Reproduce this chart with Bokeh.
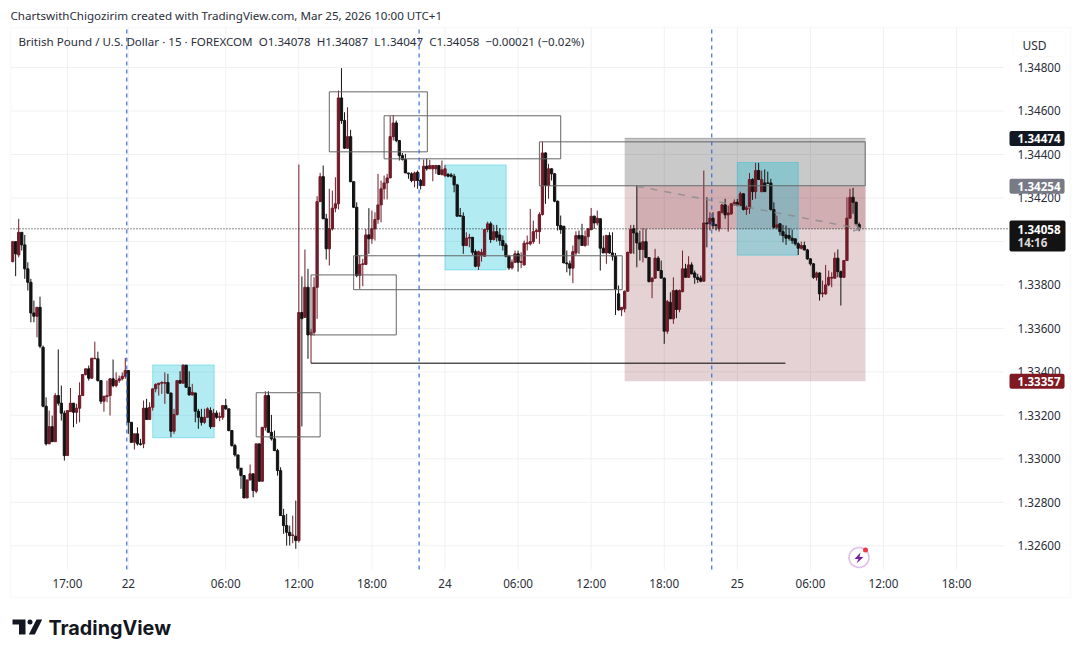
from bokeh.embed import file_html
from bokeh.models import (Arrow, BoxAnnotation, ColumnDataSource, Label, OpenHead,
                          PolyAnnotation, PrintfTickFormatter, Range1d)
from bokeh.plotting import figure
from bokeh.resources import INLINE

# GBP/USD 15 minute candles, one entry per bar
opens = [
    1.33907, 1.33999, 1.33938, 1.34042, 1.33984, 1.33874, 1.33812, 1.33671, 1.33656, 1.33697,
    1.33513, 1.33242, 1.33069, 1.33148, 1.33079, 1.33291, 1.33256, 1.33210, 1.33015, 1.33217,
    1.33256, 1.33214, 1.33233, 1.33291, 1.33388, 1.33414, 1.33371, 1.33460, 1.33460, 1.33360,
    1.33265, 1.33286, 1.33291, 1.33368, 1.33337, 1.33360, 1.33368, 1.33380, 1.33406, 1.33168,
    1.33076, 1.33115, 1.33069, 1.33069, 1.33233, 1.33181, 1.33237, 1.33322, 1.33342, 1.33348,
    1.33348, 1.33351, 1.33302, 1.33127, 1.33204, 1.33360, 1.33348, 1.33431, 1.33329, 1.33294,
    1.33303, 1.33219, 1.33191, 1.33168, 1.33191, 1.33222, 1.33148, 1.33210, 1.33191, 1.33191,
    1.33245, 1.33230, 1.33130, 1.33061, 1.33018, 1.32957, 1.32923, 1.32820, 1.32903, 1.32931,
    1.32851, 1.33069, 1.32897, 1.33145, 1.33291, 1.33122, 1.33092, 1.33038, 1.32946, 1.32739,
    1.32693, 1.32662, 1.32647, 1.32644, 1.32624, 1.33673, 1.33651, 1.33789, 1.33570, 1.33582,
    1.33789, 1.34183, 1.34298, 1.34104, 1.33966, 1.34058, 1.34153, 1.34173, 1.34660, 1.34556,
    1.34429, 1.34482, 1.34275, 1.34157, 1.33843, 1.33894, 1.33894, 1.34030, 1.34012, 1.34058,
    1.34101, 1.34168, 1.34242, 1.34269, 1.34292, 1.34482, 1.34545, 1.34464, 1.34395, 1.34377,
    1.34315, 1.34311, 1.34280, 1.34318, 1.34280, 1.34257, 1.34346, 1.34334, 1.34334, 1.34334,
    1.34349, 1.34308, 1.34303, 1.34308, 1.34306, 1.34300, 1.34260, 1.34119, 1.34116, 1.33981,
    1.34015, 1.34019, 1.33953, 1.33886, 1.33935, 1.33932, 1.34055, 1.34081, 1.34009, 1.34045,
    1.34030, 1.34004, 1.33984, 1.33932, 1.33878, 1.33904, 1.33943, 1.33904, 1.33892, 1.33989,
    1.33989, 1.33999, 1.34045, 1.34045, 1.34124, 1.34407, 1.34257, 1.34334, 1.34311, 1.34185,
    1.34073, 1.34070, 1.33901, 1.33897, 1.33877, 1.33947, 1.34027, 1.34027, 1.33981, 1.34022,
    1.34055, 1.34116, 1.34085, 1.34104, 1.33969, 1.33947, 1.34027, 1.33947, 1.33932, 1.33759,
    1.33685, 1.33690, 1.33771, 1.33947, 1.34058, 1.34039, 1.33993, 1.33963, 1.33999, 1.33926,
    1.33815, 1.33831, 1.33923, 1.33866, 1.33831, 1.33587, 1.33720, 1.33644, 1.33774, 1.33687,
    1.33769, 1.33874, 1.33835, 1.33892, 1.33855, 1.33835, 1.33831, 1.33817, 1.34085, 1.34081,
    1.34107, 1.34076, 1.34058, 1.34134, 1.34168, 1.34122, 1.34127, 1.34168, 1.34180, 1.34165,
    1.34219, 1.34147, 1.34153, 1.34285, 1.34229, 1.34326, 1.34229, 1.34269, 1.34269, 1.34269,
    1.34147, 1.34065, 1.34081, 1.34045, 1.34030, 1.34027, 1.34015, 1.34012, 1.33989, 1.33969,
    1.33981, 1.33961, 1.33920, 1.33897, 1.33835, 1.33855, 1.33759, 1.33759, 1.33800, 1.33831,
    1.33831, 1.33923, 1.33861, 1.33835, 1.33912, 1.34107, 1.34203, 1.34180, 1.34078,
]
closes = [
    1.33999, 1.33943, 1.34042, 1.33984, 1.33874, 1.33812, 1.33671, 1.33656, 1.33697, 1.33518,
    1.33242, 1.33069, 1.33148, 1.33079, 1.33291, 1.33256, 1.33210, 1.33015, 1.33222, 1.33256,
    1.33214, 1.33233, 1.33291, 1.33388, 1.33414, 1.33371, 1.33463, 1.33463, 1.33360, 1.33265,
    1.33288, 1.33291, 1.33368, 1.33337, 1.33360, 1.33368, 1.33380, 1.33406, 1.33168, 1.33076,
    1.33115, 1.33069, 1.33066, 1.33233, 1.33181, 1.33237, 1.33322, 1.33342, 1.33348, 1.33351,
    1.33351, 1.33302, 1.33127, 1.33204, 1.33360, 1.33348, 1.33431, 1.33329, 1.33294, 1.33306,
    1.33219, 1.33191, 1.33168, 1.33191, 1.33230, 1.33148, 1.33210, 1.33191, 1.33194, 1.33245,
    1.33230, 1.33130, 1.33061, 1.33018, 1.32957, 1.32923, 1.32820, 1.32903, 1.32931, 1.32854,
    1.33069, 1.32897, 1.33145, 1.33291, 1.33122, 1.33092, 1.33038, 1.32946, 1.32739, 1.32693,
    1.32662, 1.32647, 1.32650, 1.32624, 1.33673, 1.33645, 1.33789, 1.33570, 1.33582, 1.33789,
    1.34183, 1.34298, 1.34104, 1.33966, 1.34058, 1.34153, 1.34173, 1.34660, 1.34556, 1.34429,
    1.34482, 1.34275, 1.34157, 1.33843, 1.33894, 1.33897, 1.34030, 1.34012, 1.34058, 1.34101,
    1.34168, 1.34242, 1.34269, 1.34292, 1.34482, 1.34545, 1.34464, 1.34395, 1.34377, 1.34315,
    1.34311, 1.34280, 1.34315, 1.34280, 1.34257, 1.34346, 1.34334, 1.34349, 1.34349, 1.34349,
    1.34308, 1.34329, 1.34334, 1.34300, 1.34300, 1.34260, 1.34116, 1.34116, 1.33981, 1.34015,
    1.34019, 1.33950, 1.33886, 1.33953, 1.33950, 1.34055, 1.34081, 1.34009, 1.34045, 1.34019,
    1.34004, 1.33981, 1.33932, 1.33878, 1.33904, 1.33943, 1.33904, 1.33907, 1.33992, 1.33993,
    1.33999, 1.34045, 1.34050, 1.34124, 1.34407, 1.34257, 1.34334, 1.34311, 1.34185, 1.34073,
    1.34055, 1.33901, 1.33897, 1.33877, 1.33953, 1.34027, 1.34012, 1.33981, 1.34022, 1.34058,
    1.34116, 1.34085, 1.34107, 1.33969, 1.33947, 1.34027, 1.33947, 1.33932, 1.33779, 1.33685,
    1.33697, 1.33771, 1.33950, 1.34055, 1.34039, 1.33993, 1.33963, 1.33999, 1.33926, 1.33815,
    1.33831, 1.33923, 1.33866, 1.33831, 1.33587, 1.33723, 1.33644, 1.33774, 1.33687, 1.33774,
    1.33874, 1.33835, 1.33892, 1.33851, 1.33835, 1.33825, 1.33817, 1.34085, 1.34081, 1.34107,
    1.34073, 1.34073, 1.34137, 1.34168, 1.34122, 1.34131, 1.34173, 1.34180, 1.34165, 1.34219,
    1.34147, 1.34157, 1.34285, 1.34229, 1.34326, 1.34285, 1.34285, 1.34229, 1.34268, 1.34147,
    1.34065, 1.34076, 1.34045, 1.34027, 1.34015, 1.34015, 1.34004, 1.33989, 1.33969, 1.33981,
    1.33961, 1.33920, 1.33897, 1.33835, 1.33855, 1.33759, 1.33763, 1.33800, 1.33835, 1.33835,
    1.33923, 1.33861, 1.33835, 1.33912, 1.34107, 1.34203, 1.34180, 1.34081, 1.34058,
]
highs = [
    1.34000, 1.33999, 1.34104, 1.34042, 1.34030, 1.33904, 1.33828, 1.33728, 1.33697, 1.33746,
    1.33521, 1.33283, 1.33222, 1.33199, 1.33302, 1.33503, 1.33337, 1.33222, 1.33222, 1.33326,
    1.33256, 1.33253, 1.33352, 1.33388, 1.33414, 1.33429, 1.33463, 1.33539, 1.33493, 1.33360,
    1.33288, 1.33360, 1.33371, 1.33457, 1.33398, 1.33383, 1.33398, 1.33464, 1.33406, 1.33168,
    1.33115, 1.33145, 1.33092, 1.33268, 1.33276, 1.33260, 1.33322, 1.33348, 1.33348, 1.33357,
    1.33398, 1.33391, 1.33306, 1.33230, 1.33360, 1.33403, 1.33434, 1.33431, 1.33403, 1.33345,
    1.33303, 1.33230, 1.33230, 1.33230, 1.33237, 1.33237, 1.33230, 1.33222, 1.33214, 1.33245,
    1.33276, 1.33230, 1.33133, 1.33069, 1.33018, 1.32958, 1.32923, 1.32903, 1.32974, 1.32931,
    1.33069, 1.33069, 1.33145, 1.33311, 1.33311, 1.33202, 1.33130, 1.33046, 1.32961, 1.32770,
    1.32747, 1.32693, 1.32739, 1.32808, 1.34354, 1.33839, 1.33963, 1.33874, 1.33598, 1.33835,
    1.34208, 1.34315, 1.34349, 1.34127, 1.34242, 1.34234, 1.34295, 1.34694, 1.34797, 1.34594,
    1.34617, 1.34513, 1.34275, 1.34180, 1.33935, 1.33920, 1.34058, 1.34153, 1.34142, 1.34134,
    1.34311, 1.34280, 1.34303, 1.34311, 1.34576, 1.34582, 1.34556, 1.34464, 1.34407, 1.34403,
    1.34315, 1.34318, 1.34321, 1.34326, 1.34288, 1.34377, 1.34380, 1.34375, 1.34349, 1.34352,
    1.34349, 1.34372, 1.34352, 1.34315, 1.34315, 1.34311, 1.34265, 1.34154, 1.34134, 1.34042,
    1.34035, 1.34019, 1.33963, 1.33958, 1.33966, 1.34055, 1.34091, 1.34091, 1.34076, 1.34076,
    1.34061, 1.34027, 1.33993, 1.33938, 1.33917, 1.33958, 1.33958, 1.33950, 1.34004, 1.34027,
    1.34150, 1.34096, 1.34058, 1.34134, 1.34459, 1.34410, 1.34357, 1.34337, 1.34315, 1.34188,
    1.34119, 1.34070, 1.33958, 1.33912, 1.33981, 1.34047, 1.34050, 1.34081, 1.34050, 1.34061,
    1.34154, 1.34119, 1.34142, 1.34107, 1.34027, 1.34030, 1.34042, 1.34042, 1.33947, 1.33797,
    1.33697, 1.33774, 1.33953, 1.34076, 1.34076, 1.34257, 1.34050, 1.34061, 1.34058, 1.33927,
    1.33835, 1.33966, 1.33932, 1.33912, 1.33835, 1.33731, 1.33766, 1.33835, 1.33779, 1.33779,
    1.33958, 1.33897, 1.33932, 1.33904, 1.33866, 1.33851, 1.33843, 1.34326, 1.34203, 1.34134,
    1.34134, 1.34081, 1.34137, 1.34173, 1.34196, 1.34165, 1.34177, 1.34193, 1.34196, 1.34229,
    1.34222, 1.34165, 1.34315, 1.34291, 1.34361, 1.34361, 1.34326, 1.34331, 1.34321, 1.34288,
    1.34180, 1.34119, 1.34084, 1.34076, 1.34073, 1.34061, 1.34055, 1.34012, 1.33996, 1.33999,
    1.33999, 1.33966, 1.33923, 1.33901, 1.33861, 1.33858, 1.33820, 1.33892, 1.33866, 1.33858,
    1.33950, 1.33963, 1.33866, 1.33915, 1.34203, 1.34242, 1.34246, 1.34183, 1.34087,
]
lows = [
    1.33904, 1.33840, 1.33927, 1.33958, 1.33828, 1.33774, 1.33628, 1.33628, 1.33559, 1.33509,
    1.33237, 1.33061, 1.33069, 1.33079, 1.33079, 1.33245, 1.33176, 1.32992, 1.33015, 1.33217,
    1.33145, 1.33161, 1.33168, 1.33291, 1.33383, 1.33360, 1.33368, 1.33460, 1.33355, 1.33253,
    1.33217, 1.33260, 1.33199, 1.33329, 1.33329, 1.33349, 1.33360, 1.33368, 1.33115, 1.33073,
    1.33043, 1.33061, 1.33061, 1.33049, 1.33181, 1.33181, 1.33222, 1.33306, 1.33291, 1.33299,
    1.33253, 1.33299, 1.33099, 1.33115, 1.33199, 1.33348, 1.33348, 1.33326, 1.33291, 1.33291,
    1.33168, 1.33138, 1.33153, 1.33161, 1.33191, 1.33138, 1.33148, 1.33184, 1.33173, 1.33179,
    1.33225, 1.33127, 1.33056, 1.33010, 1.32946, 1.32862, 1.32820, 1.32820, 1.32900, 1.32823,
    1.32842, 1.32897, 1.32897, 1.33130, 1.33122, 1.33084, 1.33035, 1.32923, 1.32739, 1.32655,
    1.32601, 1.32601, 1.32612, 1.32586, 1.32615, 1.33149, 1.33648, 1.33460, 1.33440, 1.33567,
    1.33644, 1.34183, 1.34104, 1.33917, 1.33889, 1.34050, 1.34134, 1.34147, 1.34541, 1.34426,
    1.34426, 1.34272, 1.34153, 1.33835, 1.33782, 1.33794, 1.33894, 1.33943, 1.33989, 1.34004,
    1.34081, 1.34088, 1.34193, 1.34193, 1.34292, 1.34464, 1.34456, 1.34372, 1.34372, 1.34315,
    1.34288, 1.34272, 1.34249, 1.34242, 1.34239, 1.34257, 1.34326, 1.34334, 1.34277, 1.34311,
    1.34306, 1.34303, 1.34295, 1.34295, 1.34294, 1.34226, 1.34116, 1.34116, 1.33943, 1.33978,
    1.33973, 1.33938, 1.33881, 1.33869, 1.33907, 1.33929, 1.34042, 1.33993, 1.34004, 1.33999,
    1.33981, 1.33958, 1.33927, 1.33869, 1.33871, 1.33901, 1.33861, 1.33877, 1.33889, 1.33958,
    1.33981, 1.33989, 1.34012, 1.33989, 1.34119, 1.34173, 1.34196, 1.34280, 1.34180, 1.34050,
    1.34035, 1.33901, 1.33858, 1.33843, 1.33808, 1.33935, 1.33943, 1.33981, 1.33976, 1.33981,
    1.34050, 1.34058, 1.34073, 1.33866, 1.33947, 1.33897, 1.33943, 1.33912, 1.33662, 1.33682,
    1.33656, 1.33674, 1.33769, 1.33943, 1.33943, 1.33881, 1.33912, 1.33904, 1.33923, 1.33812,
    1.33739, 1.33828, 1.33866, 1.33831, 1.33529, 1.33575, 1.33644, 1.33621, 1.33647, 1.33674,
    1.33766, 1.33835, 1.33832, 1.33848, 1.33805, 1.33809, 1.33812, 1.33815, 1.33973, 1.34050,
    1.34058, 1.34050, 1.34045, 1.34127, 1.34104, 1.34045, 1.34122, 1.34165, 1.34162, 1.34162,
    1.34142, 1.34122, 1.34127, 1.34191, 1.34196, 1.34285, 1.34226, 1.34229, 1.34265, 1.34142,
    1.34058, 1.34055, 1.34027, 1.33996, 1.33984, 1.34004, 1.33989, 1.33981, 1.33938, 1.33963,
    1.33958, 1.33915, 1.33889, 1.33828, 1.33820, 1.33728, 1.33743, 1.33754, 1.33794, 1.33789,
    1.33828, 1.33835, 1.33705, 1.33832, 1.33912, 1.34104, 1.34127, 1.34078, 1.34047,
]

# axes, bar numbers for the time scale
price_ticks = [1.326, 1.328, 1.330, 1.332, 1.334, 1.336, 1.338, 1.340, 1.342, 1.344, 1.346, 1.348]
time_ticks = [18, 38, 70, 94, 118, 142, 166, 190, 214, 238, 262, 286, 310]
time_labels = ["17:00", "22", "06:00", "12:00", "18:00", "24", "06:00", "12:00", "18:00", "25", "06:00", "12:00", "18:00"]
session_breaks = [37.5, 133.5, 229.6]

# drawings on the chart
zone_left = [46, 142, 238]
zone_right = [66.2, 162.1, 258]
zone_top = [1.33432, 1.34352, 1.34363]
zone_bottom = [1.33097, 1.33869, 1.33937]

box_left = [104, 122, 173, 112, 98, 80]
box_right = [136.2, 180, 280, 200.2, 126, 101]
box_top = [1.34688, 1.34578, 1.34458, 1.33934, 1.33846, 1.33304]
box_bottom = [1.34412, 1.34380, 1.34256, 1.33778, 1.33570, 1.33101]

level_start, level_end, level_price = 98, 253.8, 1.33440

# short position tool
pos_left, pos_right, pos_trade_start, last_bar = 201, 280.1, 205, 278
target_price, entry_price, stop_price, last_price = 1.34474, 1.34254, 1.33357, 1.34058

# the pane itself, the plot frame fills the whole page so texts outside the pane are not clipped
pane_left, pane_right, pane_top, pane_bottom = -0.69, 325.74, 1.34984, 1.32491
dotted_end = 327.4

UP = "#701c29"
DOWN = "#131313"
FONT = "Noto Sans"
TEXT = "#2a2e39"
GRID = "#f0f1f3"
SEPARATOR = "#3a6fd8"

bars = list(range(len(closes)))
candles = ColumnDataSource(data=dict(
    bar=bars, open=opens, high=highs, low=lows, close=closes,
    top=[max(o, c) for o, c in zip(opens, closes)],
    bottom=[min(o, c) for o, c in zip(opens, closes)],
    color=[UP if c >= o else DOWN for o, c in zip(opens, closes)],
))

p = figure(
    width=1080, height=657, output_backend="svg", toolbar_location=None,
    x_range=Range1d(-3.974, 350.70), y_range=Range1d(1.320862, 1.351082),
    y_axis_location="right", min_border=0,
)
p.outline_line_color = None
p.background_fill_color = "white"
p.border_fill_color = "white"
p.grid.visible = False

# axes sit on the pane edges
p.yaxis.ticker = price_ticks
p.yaxis.formatter = PrintfTickFormatter(format="%.5f")
p.yaxis.fixed_location = pane_right
p.xaxis.ticker = time_ticks
p.xaxis.major_label_overrides = dict(zip(time_ticks, time_labels))
p.xaxis.fixed_location = pane_bottom
for axis, standoff in ((p.xaxis, 6), (p.yaxis, 13)):
    axis.axis_line_color = None
    axis.major_tick_line_color = None
    axis.minor_tick_line_color = None
    axis.major_tick_out = 0
    axis.major_tick_in = 0
    axis.major_label_standoff = standoff
    axis.major_label_text_font = FONT
    axis.major_label_text_font_size = "11.7px"
    axis.major_label_text_color = TEXT

# grid
p.segment(x0=time_ticks, x1=time_ticks, y0=[pane_bottom] * len(time_ticks), y1=[pane_top] * len(time_ticks),
          line_color=GRID, line_width=1)
p.segment(x0=[pane_left] * len(price_ticks), x1=[pane_right] * len(price_ticks), y0=price_ticks, y1=price_ticks,
          line_color=GRID, line_width=1)

# position tool
p.quad(left=[pos_left], right=[pos_right], top=[target_price], bottom=[entry_price],
       fill_color="black", fill_alpha=0.21, line_color=None)
p.quad(left=[pos_left], right=[pos_right], top=[entry_price], bottom=[stop_price],
       fill_color="#7b1c28", fill_alpha=0.2, line_color=None)
p.quad(left=[pos_trade_start], right=[pos_right], top=[entry_price], bottom=[last_price],
       fill_color="#7b1c28", fill_alpha=0.2, line_color=None)
p.segment(x0=[pos_left], x1=[pos_right], y0=[target_price], y1=[target_price],
          line_color="#a4a4a4", line_width=1)

# cyan zones
p.quad(left=zone_left, right=zone_right, top=zone_top, bottom=zone_bottom,
       fill_color="#00bcd4", fill_alpha=0.3, line_color="#00bcd4", line_alpha=0.35, line_width=1)

# candles
p.segment("bar", "high", "bar", "low", source=candles, line_color="color", line_width=1)
p.vbar(x="bar", width=0.75, top="top", bottom="bottom", source=candles,
       fill_color="color", line_color="color", line_width=1)

# outlined boxes and the black level
p.quad(left=box_left, right=box_right, top=box_top, bottom=box_bottom,
       fill_color=None, line_color="#666666", line_width=1)
p.segment(x0=[level_start], x1=[level_end], y0=[level_price], y1=[level_price],
          line_color="black", line_width=1)

# session separators and last price line
p.segment(x0=session_breaks, x1=session_breaks, y0=[pane_bottom] * 3, y1=[pane_top] * 3,
          line_color=SEPARATOR, line_width=1.2, line_dash="4 4")
p.segment(x0=[pane_left], x1=[dotted_end], y0=[last_price], y1=[last_price],
          line_color="#131313", line_width=1, line_dash="1 2")
p.add_layout(Arrow(x_start=pos_trade_start, y_start=entry_price, x_end=last_bar + 0.5, y_end=last_price,
                   line_color="#8a8a8a", line_alpha=0.8, line_width=1.5, line_dash="7 7",
                   end=OpenHead(size=7, line_color="#8a8a8a", line_width=1.5, line_alpha=0.8)))


def canvas_box(left, right, top, bottom, fill_color=None, fill_alpha=1, **kw):
    p.add_layout(BoxAnnotation(left=left, right=right, top=top, bottom=bottom,
                               left_units="canvas", right_units="canvas",
                               top_units="canvas", bottom_units="canvas",
                               fill_color=fill_color, fill_alpha=fill_alpha, **kw))


def canvas_poly(xs, ys, color):
    p.add_layout(PolyAnnotation(xs=xs, ys=ys, xs_units="canvas", ys_units="canvas",
                                fill_color=color, fill_alpha=1, line_color=None))


def canvas_text(text, x, y, size="12px", color=TEXT, style="normal", font=FONT):
    p.add_layout(Label(text=text, x=x, y=y, x_units="canvas", y_units="canvas",
                       text_font=font, text_font_size=size, text_color=color,
                       text_font_style=style, text_align="left", text_baseline="middle"))


def price_tag(price, color, text):
    p.add_layout(Label(text=text, x=1009, y=price, x_units="canvas", y_units="data",
                       text_font=FONT, text_font_size="11.6px", text_color="white",
                       text_font_style="bold", text_align="left", text_baseline="middle",
                       background_fill_color=color, border_radius=2, padding=(8, 4, 3, 3)))


# panel border
canvas_box(10, 1070, 27, 597, line_color="#eeeeee", line_width=2)

# header
canvas_text("ChartswithChigozirim created with TradingView.com, Mar 25, 2026 10:00 UTC+1", 10, 15, size="11.6px")
canvas_text("British Pound / U.S. Dollar \u00b7 15 \u00b7 FOREXCOM\u00a0\u00a0O1.34078\u00a0\u00a0H1.34087"
            "\u00a0\u00a0L1.34047\u00a0\u00a0C1.34058\u00a0\u00a0\u22120.00021 (\u22120.02%)", 18, 41, size="11.6px")

# currency button
canvas_box(1012, 1065, 31, 56, fill_color="white", line_color="#eeeeee", line_width=1, border_radius=4)
canvas_text("USD", 1022, 45)

# price tags
price_tag(target_price, "#131722", "1.34474")
price_tag(entry_price, "#787b86", "1.34254")
price_tag(stop_price, "#801922", "1.33357")
canvas_box(1009, 1065, 220, 251, fill_color="#131313", line_color=None, border_radius=2)
canvas_text("1.34058", 1017, 229, size="11.6px", color="white", style="bold")
canvas_text("14:16", 1017, 242, size="11.6px", color="#d8d8d8", style="bold")

# lightning badge near the bottom
canvas_box(848.5, 868.5, 547, 567, line_color="#9c27b0", line_width=1.5, border_radius=10)
canvas_poly([860, 854, 858, 856, 863, 859], [552, 558.5, 558.5, 563, 556.5, 556.5], "#7b1fa2")
canvas_box(862.5, 867.5, 547, 552, fill_color="#f23645", line_color=None, border_radius=3)

# TradingView logo
LOGO = "#131722"
canvas_poly([12, 25, 25, 18.5, 18.5, 12], [619, 619, 634, 634, 624, 624], LOGO)
canvas_poly([36, 41.7, 34.3, 28.3], [619, 619, 634, 634], LOGO)
canvas_box(27, 32, 619, 624, fill_color=LOGO, line_color=None, border_radius=3)
canvas_text("TradingView", 48, 627, size="19.8px", color=LOGO, style="bold", font="Inter")

open("out.html", "w").write(file_html(p, INLINE))
